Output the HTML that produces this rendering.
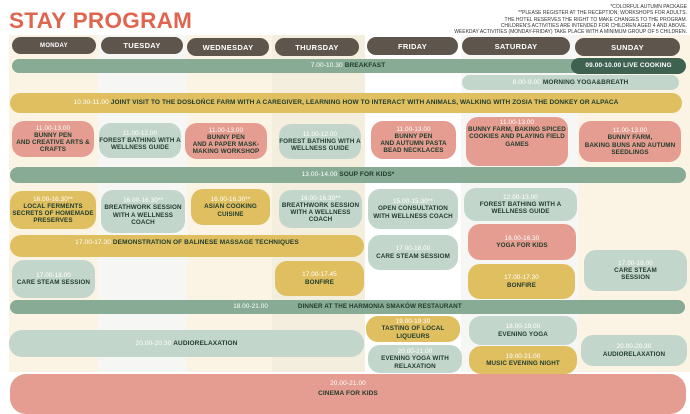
<!DOCTYPE html>
<html><head><meta charset="utf-8"><style>
*{margin:0;padding:0;box-sizing:border-box}
body{width:690px;height:400px;background:#fff;position:relative;overflow:hidden;font-family:"Liberation Sans",sans-serif;font-weight:bold}
.c{position:absolute;top:35px;height:337px}
.d{position:absolute;background:#5e554c;color:#fff;border-radius:10px;font-size:7.5px;display:flex;align-items:center;justify-content:center;letter-spacing:.3px}
.b{position:absolute;border-radius:12px;display:flex;flex-direction:column;align-items:center;justify-content:center;text-align:center;font-size:6.3px;line-height:1.15;color:#1f3a2c;letter-spacing:.1px}
.b i{font-style:normal;color:#fff;font-weight:normal}
.p{background:#e49d90}.g{background:#c3d6cb}.y{background:#dfbf60}.m{background:#87ab94}
.row{flex-direction:row}
</style></head><body>
<div class="c" style="left:9px;width:89px;background:#fbf4e4"></div>
<div class="c" style="left:98px;width:89px;background:#f6f6f4"></div>
<div class="c" style="left:187px;width:85px;background:#fbf4e4"></div>
<div class="c" style="left:272px;width:93px;background:#f4eedf"></div>
<div class="c" style="left:461px;width:117px;background:#f6f6f4"></div>
<div class="c" style="left:578px;width:112px;background:#fbf4e4"></div>

<div style="position:absolute;left:9px;top:8px;font-size:22.5px;color:#e0654f;letter-spacing:.3px">STAY PROGRAM</div>
<div style="position:absolute;right:3px;top:4px;text-align:right;font-size:5px;line-height:6.3px;color:#333;font-weight:normal">*COLORFUL AUTUMN PACKAGE<br>**PLEASE REGISTER AT THE RECEPTION; WORKSHOPS FOR ADULTS.<br>THE HOTEL RESERVES THE RIGHT TO MAKE CHANGES TO THE PROGRAM.<br>CHILDREN'S ACTIVITIES ARE INTENDED FOR CHILDREN AGED 4 AND ABOVE.<br>WEEKDAY ACTIVITIES (MONDAY-FRIDAY) TAKE PLACE WITH A MINIMUM GROUP OF 5 CHILDREN.</div>

<div class="d" style="left:12px;top:37px;width:84px;height:17px;font-size:6px">MONDAY</div>
<div class="d" style="left:101px;top:37px;width:82px;height:17px">TUESDAY</div>
<div class="d" style="left:187px;top:38px;width:82px;height:18px">WEDNESDAY</div>
<div class="d" style="left:275px;top:38px;width:84px;height:18px">THURSDAY</div>
<div class="d" style="left:367px;top:37px;width:91px;height:18px">FRIDAY</div>
<div class="d" style="left:462px;top:37px;width:108px;height:18px">SATURDAY</div>
<div class="d" style="left:575px;top:38px;width:105px;height:18px">SUNDAY</div>

<div class="b m row" style="left:12px;top:59px;width:672px;height:14px;border-radius:7px;font-size:6.5px"><i>7.00-10.30&nbsp;</i>BREAKFAST</div>
<div class="b row" style="left:571px;top:58px;width:115px;height:16px;border-radius:8px;background:#3e6150;color:#fff;font-size:6.5px">09.00-10.00 LIVE COOKING</div>
<div class="b g row" style="left:462px;top:75px;width:217px;height:15px;border-radius:8px;font-size:6.5px"><i>8.00-9.00&nbsp;</i>MORNING YOGA&amp;BREATH</div>
<div class="b y row" style="left:10px;top:93px;width:672px;height:20px;border-radius:10px;font-size:6.5px"><i>10.30-11.00&nbsp;</i>JOINT VISIT TO THE DOSŁOŃCE FARM WITH A CAREGIVER, LEARNING HOW TO INTERACT WITH ANIMALS, WALKING WITH ZOSIA THE DONKEY OR ALPACA</div>

<div class="b p" style="left:12px;top:121px;width:82px;height:36px"><i>11.00-13.00</i>BUNNY PEN<br>AND CREATIVE ARTS &amp;<br>CRAFTS</div>
<div class="b g" style="left:99px;top:123px;width:82px;height:35px"><i>11.00-12.00</i>FOREST BATHING WITH A<br>WELLNESS GUIDE</div>
<div class="b p" style="left:185px;top:123px;width:82px;height:36px"><i>11.00-13.00</i>BUNNY PEN<br>AND A PAPER MASK-<br>MAKING WORKSHOP</div>
<div class="b g" style="left:279px;top:124px;width:82px;height:35px"><i>11.00-12.00</i>FOREST BATHING WITH A<br>WELLNESS GUIDE</div>
<div class="b p" style="left:371px;top:121px;width:85px;height:38px"><i>11.00-13.00</i>BUNNY PEN<br>AND AUTUMN PASTA<br>BEAD NECKLACES</div>
<div class="b p" style="left:466px;top:117px;width:102px;height:49px;justify-content:flex-start;padding-top:2px"><i>11.00-13.00</i>BUNNY FARM, BAKING SPICED<br>COOKIES AND PLAYING FIELD<br>GAMES</div>
<div class="b p" style="left:579px;top:121px;width:102px;height:41px"><i>11.00-13.00</i>BUNNY FARM,<br>BAKING BUNS AND AUTUMN<br>SEEDLINGS</div>

<div class="b m row" style="left:10px;top:167px;width:676px;height:16px;border-radius:8px;font-size:6.5px"><i>13.00-14.00&nbsp;</i>SOUP FOR KIDS*</div>

<div class="b y" style="left:10px;top:191px;width:86px;height:38px"><i>16.00-16.30**</i>LOCAL FERMENTS<br>SECRETS OF HOMEMADE<br>PRESERVES</div>
<div class="b g" style="left:101px;top:190px;width:84px;height:43px"><i>16.00-16.30**</i>BREATHWORK SESSION<br>WITH A WELLNESS<br>COACH</div>
<div class="b y" style="left:191px;top:189px;width:79px;height:36px"><i>16.00-16.30**</i>ASIAN COOKING<br>CUISINE</div>
<div class="b g" style="left:279px;top:190px;width:83px;height:38px"><i>16.00-16.30**</i>BREATHWORK SESSION<br>WITH A WELLNESS<br>COACH</div>
<div class="b g" style="left:368px;top:189px;width:90px;height:40px"><i>15.00-15.30**</i>OPEN CONSULTATION<br>WITH WELLNESS COACH</div>
<div class="b g" style="left:464px;top:188px;width:113px;height:33px"><i>12.00-13.00</i>FOREST BATHING WITH A<br>WELLNESS GUIDE</div>

<div class="b y row" style="left:10px;top:235px;width:354px;height:22px;border-radius:11px;font-size:6.5px;padding-bottom:7px"><i>17.00-17.30&nbsp;</i>DEMONSTRATION OF BALINESE MASSAGE TECHNIQUES</div>
<div class="b g" style="left:368px;top:235px;width:90px;height:35px"><i>17.00-18.00</i>CARE STEAM SESSIOM</div>
<div class="b p" style="left:468px;top:224px;width:108px;height:36px"><i>16.00-16.30</i>YOGA FOR KIDS</div>
<div class="b g" style="left:12px;top:260px;width:83px;height:38px"><i>17.00-18.00</i>CARE STEAM SESSION</div>
<div class="b y" style="left:275px;top:261px;width:89px;height:35px"><i>17.00-17.45</i>BONFIRE</div>
<div class="b y" style="left:468px;top:264px;width:107px;height:35px"><i>17.00-17.30</i>BONFIRE</div>
<div class="b g" style="left:584px;top:250px;width:103px;height:41px"><i>17.00-18.00</i>CARE STEAM<br>SESSION</div>

<div class="b m row" style="left:10px;top:300px;width:675px;height:14px;border-radius:7px;font-size:6.3px"><i style="margin-right:30px">18.00-21.00</i>DINNER AT THE HARMONIA SMAKÓW RESTAURANT</div>

<div class="b y" style="left:366px;top:316px;width:94px;height:26px"><i>19.00-19.30</i>TASTING OF LOCAL<br>LIQUEURS</div>
<div class="b g" style="left:469px;top:316px;width:108px;height:29px"><i>18.00-19.00</i>EVENING YOGA</div>
<div class="b g row" style="left:9px;top:330px;width:355px;height:27px;border-radius:13px;font-size:6.5px"><i>20.00-20.30&nbsp;</i>AUDIORELAXATION</div>
<div class="b g" style="left:368px;top:345px;width:94px;height:28px"><i>20.00-21.00</i>EVENING YOGA WITH<br>RELAXATION</div>
<div class="b y" style="left:469px;top:346px;width:108px;height:28px"><i>19.00-21.00</i>MUSIC EVENING NIGHT</div>
<div class="b g" style="left:581px;top:335px;width:106px;height:31px"><i>20.00-20.30</i>AUDIORELAXATION</div>

<div class="b p" style="left:10px;top:374px;width:676px;height:40px;border-radius:16px;justify-content:flex-start;padding-top:5px;font-size:6.5px;line-height:1.6"><i>20.00-21.00</i>CINEMA FOR KIDS</div>
</body></html>
